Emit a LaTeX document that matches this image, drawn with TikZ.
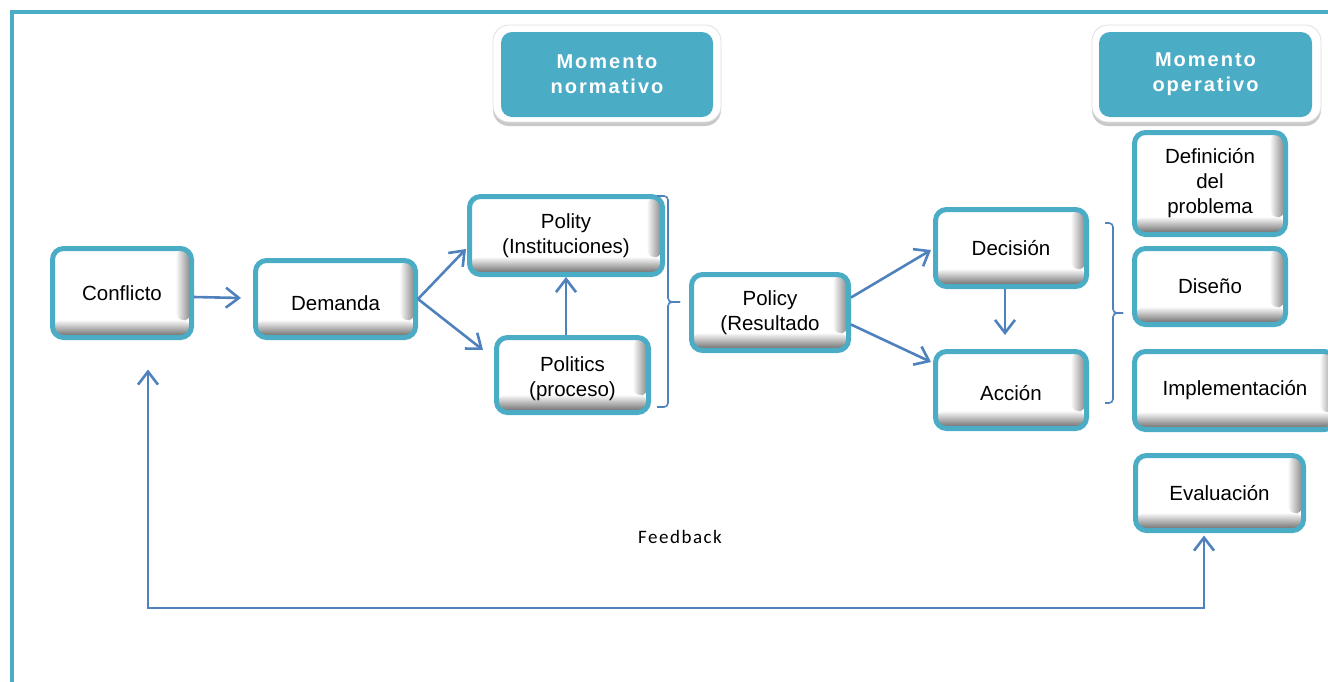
\documentclass[tikz,border=0pt]{standalone}
\usepackage{fontspec}
\setmainfont{Liberation Sans}
\newfontfamily\hdrfont[LetterSpace=10]{Liberation Sans}
\newfontfamily\fbfont[LetterSpace=8]{Carlito}
\usetikzlibrary{arrows.meta,shadows,calc}
\definecolor{framec}{HTML}{4BACC6}
\definecolor{arrowblue}{HTML}{4F81BD}
\begin{document}
\begin{tikzpicture}[x=1pt,y=-1pt,
  box/.style={draw=framec, line width=5pt, rounded corners=11pt, fill=white,
    align=center, inner sep=0pt, text=black,
    font=\fontsize{20.5}{25}\selectfont,
    path picture={
      \path (path picture bounding box.center);
      \shade[left color=white, right color=black!50] ([xshift=-16pt]path picture bounding box.north east) rectangle ([yshift=16pt]path picture bounding box.south east);
      \shade[top color=white, bottom color=black!62] (path picture bounding box.south west) rectangle ([yshift=18pt]path picture bounding box.south east);
    }},
  hdrout/.style={draw=black!12, line width=0.8pt, fill=white, rounded corners=16pt,
    minimum width=228pt, minimum height=97pt, inner sep=0pt,
    drop shadow={shadow xshift=0pt, shadow yshift=-4pt, opacity=0.3, fill=black!70}},
  hdrin/.style={fill=framec, rounded corners=11pt, minimum width=212pt, minimum height=85pt,
    inner sep=0pt, align=center, text=white, font=\hdrfont\bfseries\fontsize{20}{25}\selectfont},
  arr/.style={draw=arrowblue, line width=2.6pt, -{Straight Barb[length=13pt,width=20pt]}},
  dbl/.style={draw=arrowblue, line width=2.6pt, {Straight Barb[length=13pt,width=20pt]}-{Straight Barb[length=13pt,width=20pt]}},
  brace/.style={draw=arrowblue, line width=1.6pt, rounded corners=4pt}
]
\useasboundingbox (0,0) rectangle (1328,681);
% frame
\draw[framec, line width=4.5pt] (12,12) rectangle (1420,780);

% headers
\node[hdrout] (nout) at (607,73.5) {};
\node[hdrin] (nin) at (607,74.5) {Momento\\normativo};
\node[hdrout, minimum width=229pt] (oout) at (1206.5,73.5) {};
\node[hdrin, minimum width=213pt] (oin) at (1205.5,74.5) {Momento\\operativo};

% nodes
\node[box, minimum width=139pt, minimum height=89pt] (conf) at (122,293) {Conflicto};
\node[box, minimum width=160pt, minimum height=77pt] (dem) at (335.5,299) {\raisebox{-11pt}[0pt][0pt]{Demanda}};
\node[box, minimum width=193pt, minimum height=78pt] (polity) at (566,235.5) {Polity\\(Instituciones)};
\node[box, minimum width=152pt, minimum height=75pt] (politics) at (572.5,375) {\raisebox{-9pt}[0pt][0pt]{\begin{tabular}{@{}c@{}}Politics\\(proceso)\end{tabular}}};
\node[box, minimum width=157pt, minimum height=76pt] (policy) at (770,312.5) {Policy\\(Resultado};
\node[box, minimum width=151pt, minimum height=77pt] (dec) at (1011,248) {Decisión};
\node[box, minimum width=151pt, minimum height=77pt] (acc) at (1011,390) {\raisebox{-10pt}[0pt][0pt]{Acción}};
\node[box, minimum width=151pt, minimum height=102pt] (def) at (1210,183.5) {Definición\\del\\problema};
\node[box, minimum width=151pt, minimum height=76pt] (dis) at (1210,286.5) {Diseño};
\node[box, minimum width=201pt, minimum height=78pt] (impl) at (1235,390.5) {Implementación};
\node[box, minimum width=168pt, minimum height=75pt] (eval) at (1219.5,493) {Evaluación};

% feedback label
\node[font=\fbfont\fontsize{19}{20}\selectfont] (fb) at (680,537) {Feedback};

% connectors
\draw[arr] ($(conf.east)+(0,4)$) -- ($(dem.west)+(-12,-1)$);
\draw[arr] (dem.east) -- ($(polity.west)+(-1,13.5)$);
\draw[arr] (dem.east) -- ($(politics.west)+(-11,-25)$);
\draw[arr] (polity.south |- politics.north) -- (polity.south);
\draw[arr] ($(policy.east)+(0,-15)$) -- ($(dec.west)+(-2,2)$);
\draw[arr] ($(policy.east)+(0,12)$) -- ($(acc.west)+(-2,-28)$);
\draw[arr] ($(dec.south)+(-6,0)$) -- ($(acc.north)+(-6,-14)$);

\coordinate (fbR) at (1204,608);
\coordinate (fbL) at (148,608);
\draw[dbl, line join=miter] ($(eval.south)+(-15.5,2.5)$) -- (fbR) -- (fbL) -- ($(conf.south)+(26,29.5)$);

% braces
\draw[brace] (657,196) -- (668,196) -- (668,302) -- (680,302);
\draw[brace] (680,302) -- (668,302) -- (668,407) -- (657,407);
\draw[brace] (1105,223) -- (1113,223) -- (1113,313) -- (1123,313);
\draw[brace] (1123,313) -- (1113,313) -- (1113,403) -- (1105,403);
\end{tikzpicture}
\end{document}
